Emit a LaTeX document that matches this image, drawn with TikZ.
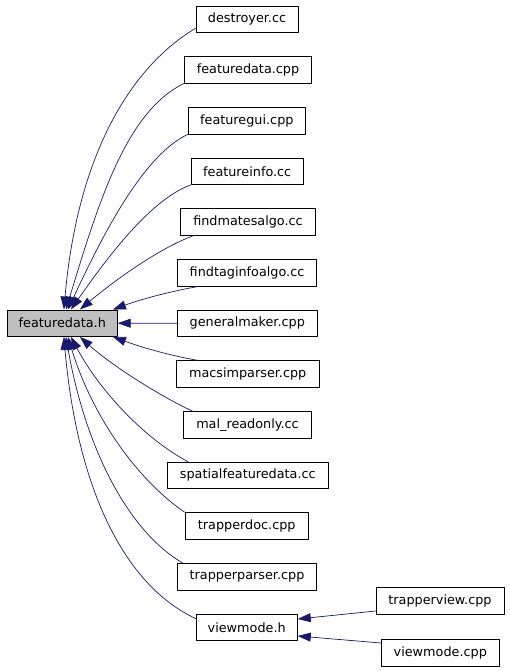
\documentclass[tikz,border=0pt]{standalone}
\usepackage{fontspec}
\setmainfont{DejaVu Sans}
\usetikzlibrary{arrows.meta, positioning}
\definecolor{edgeblue}{RGB}{25,25,112}
\definecolor{headgray}{RGB}{191,191,191}

\begin{document}
\begin{tikzpicture}[x=1pt, y=1pt, line cap=round, line join=round,
    filebox/.style={draw=black, line width=0.8pt, inner sep=0pt, minimum height=26.5,
      font=\fontsize{12.8}{15}\selectfont},
    dep/.style={draw=edgeblue, line width=0.7pt, -{Triangle[length=13pt, width=9pt]}}]

    \useasboundingbox (0,0) rectangle (509,-671);

    % Included header
    \node[filebox, fill=headgray, minimum width=110] (fdh) at (62.3,-323.2) {featuredata.h};

    % Files that include it
    \foreach \name/\x/\y/\w/\label in {
      destroyer/247/19.2/102/destroyer.cc,
      fdcpp/248/69.8/127.4/featuredata.cpp,
      gui/246.8/120.7/117/featuregui.cpp,
      info/247.2/171.3/112.3/featureinfo.cc,
      mates/248/221.7/134.6/findmatesalgo.cc,
      taginfo/247/272.7/139.4/findtaginfoalgo.cc,
      general/247.3/323.3/140/generalmaker.cpp,
      macsim/247.7/374/143.3/macsimparser.cpp,
      malro/247.5/425/128.4/mal\_readonly.cc,
      spatial/247.8/475.3/161/spatialfeaturedata.cc,
      trapdoc/246.7/525.8/123.3/trapperdoc.cpp,
      trapparser/247/576.7/139.4/trapperparser.cpp,
      viewh/246.7/627.5/101.3/viewmode.h,
      trapview/440/601/128/trapperview.cpp,
      viewcpp/440.3/653/117.3/viewmode.cpp
    } {
      \node[filebox, minimum width=\w] (\name) at (\x,-\y) {\label};
    }

    % Edges above the header
    \draw[dep] ([yshift=4.6]destroyer.south west) to[out=211, in=85, out distance=80, in distance=150] ([xshift=57]fdh.north west);
    \draw[dep] (fdcpp.south west) to[out=206, in=73, out distance=65, in distance=110] ([xshift=59]fdh.north west);
    \draw[dep] (gui.south west) to[out=205, in=65, out distance=50, in distance=80] ([xshift=61]fdh.north west);
    \draw[dep] (info.south west) to[out=200, in=55, out distance=45, in distance=55] ([xshift=64]fdh.north west);
    \draw[dep] ([xshift=14]mates.south west) to[out=200, in=40, out distance=40, in distance=40] ([xshift=73]fdh.north west);
    \draw[dep] ([xshift=22]taginfo.south west) to[out=190, in=20, out distance=30, in distance=30] ([xshift=106]fdh.north west);

    % Straight edge
    \draw[dep] (general.west) -- (fdh.east);

    % Edges below the header
    \draw[dep] ([xshift=22]macsim.north west) to[out=170, in=340, out distance=30, in distance=30] ([xshift=106]fdh.south west);
    \draw[dep] ([xshift=10]malro.north west) to[out=155, in=318, out distance=40, in distance=40] ([xshift=73]fdh.south west);
    \draw[dep] ([xshift=21]spatial.north west) to[out=152, in=298, out distance=50, in distance=60] ([xshift=64]fdh.south west);
    \draw[dep] (trapdoc.north west) to[out=146, in=287, out distance=55, in distance=85] ([xshift=61]fdh.south west);
    \draw[dep] ([xshift=6]trapparser.north west) to[out=150, in=280, out distance=65, in distance=110] ([xshift=59]fdh.south west);
    \draw[dep] ([yshift=-4.7]viewh.north west) to[out=155, in=275, out distance=80, in distance=150] ([xshift=57]fdh.south west);

    % Edges into viewmode.h
    \draw[dep] ([yshift=-10]trapview.west) -- ([yshift=8.5]viewh.east);
    \draw[dep] ([yshift=10]viewcpp.west) -- ([yshift=-8.5]viewh.east);

\end{tikzpicture}
\end{document}
